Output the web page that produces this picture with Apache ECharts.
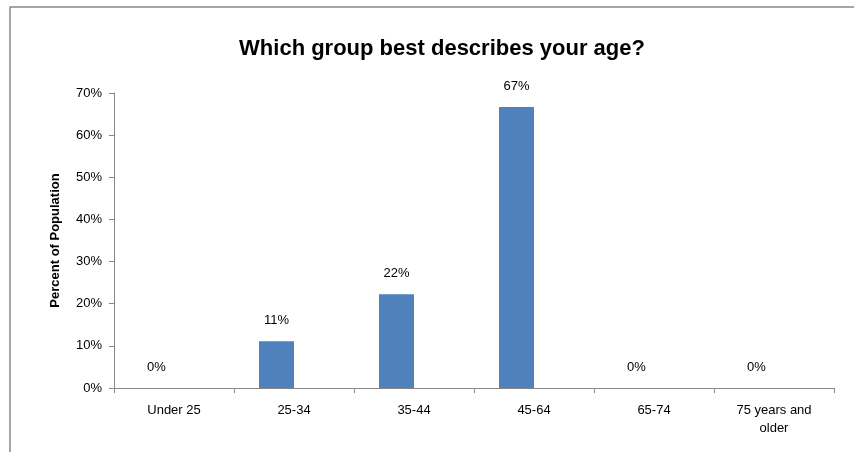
<!DOCTYPE html>
<html><head><meta charset="utf-8">
<script src="https://cdn.jsdelivr.net/npm/echarts@6/dist/echarts.min.js"></script>
<style>html,body{margin:0;padding:0;background:#fff}#c{width:854px;height:452px}</style>
</head><body><div id="c"></div>
<script>
const categories = ['Under 25', '25-34', '35-44', '45-64', '65-74', '75 years and\nolder'];
const values = [0, 11.11, 22.22, 66.67, 0, 0];
const emptySeries = [null, null, null, null, null, null];
const yTicks = [0, 10, 20, 30, 40, 50, 60, 70];

const chart = echarts.init(document.getElementById('c'), null, {renderer: 'canvas'});
const font = '"Liberation Sans", Arial, sans-serif';
chart.setOption({
  animation: false,
  backgroundColor: '#fff',
  graphic: [{
    type: 'polyline', shape: {points: [[10, 460], [10, 7], [860, 7]]},
    style: {stroke: '#888', lineWidth: 1.5, fill: null}
  }],
  title: {
    text: 'Which group best describes your age?',
    left: 437, top: 33, textAlign: 'center',
    textStyle: {fontFamily: font, fontSize: 22, fontWeight: 'bold', color: '#000'}
  },
  grid: {left: 114, right: 20, top: 93, bottom: 64},
  xAxis: {
    type: 'category', data: categories,
    axisLine: {lineStyle: {color: '#888', width: 1}},
    axisTick: {show: true, length: 5, lineStyle: {color: '#888'}},
    axisLabel: {fontFamily: font, fontSize: 13, color: '#000', margin: 13, lineHeight: 18}
  },
  yAxis: {
    type: 'value', min: 0, max: 70, interval: 10,
    name: 'Percent of Population', nameLocation: 'middle', nameGap: 52, nameRotate: 90,
    nameTextStyle: {fontFamily: font, fontSize: 13, fontWeight: 'bold', color: '#000'},
    axisLine: {show: true, lineStyle: {color: '#888', width: 1}},
    axisTick: {show: true, length: 5, inside: false, lineStyle: {color: '#888'}},
    splitLine: {show: false},
    axisLabel: {fontFamily: font, fontSize: 13, color: '#000', margin: 12,
      formatter: v => yTicks.includes(v) ? v + '%' : ''}
  },
  series: [{
    type: 'bar', data: values, barWidth: 35, barGap: '0%',
    itemStyle: {color: '#4f81bd'},
    label: {show: true, position: 'top', distance: 14, fontFamily: font, fontSize: 13, color: '#000',
      formatter: p => Math.round(p.value) + '%'}
  }, {
    type: 'bar', data: emptySeries, barWidth: 35, barGap: '0%'
  }]
});
</script></body></html>
